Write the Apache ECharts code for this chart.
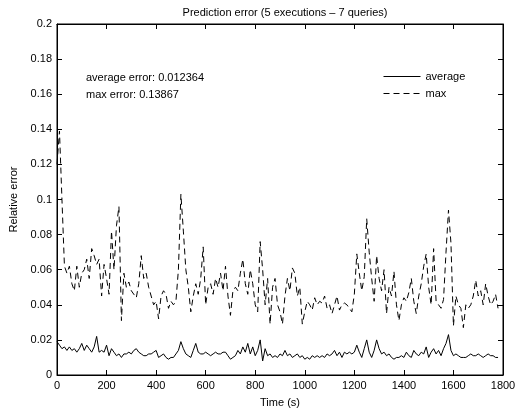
<!DOCTYPE html>
<html><head><meta charset="utf-8">
<script src="https://cdn.jsdelivr.net/npm/echarts@6/dist/echarts.min.js"></script>
<style>html,body{margin:0;padding:0;background:#fff}#c{width:519px;height:413px}</style>
</head><body><div id="c"></div>
<script>
var times = [0,10,20,30,40,50,60,70,80,90,100,110,120,130,140,150,160,170,180,190,200,210,220,230,240,250,260,270,280,290,300,310,320,330,340,350,360,370,380,390,400,410,420,430,440,450,460,470,480,490,500,510,520,530,540,550,560,570,580,590,600,610,620,630,640,650,660,670,680,690,700,710,720,730,740,750,760,770,780,790,800,810,820,830,840,850,860,870,880,890,900,910,920,930,940,950,960,970,980,990,1000,1010,1020,1030,1040,1050,1060,1070,1080,1090,1100,1110,1120,1130,1140,1150,1160,1170,1180,1190,1200,1210,1220,1230,1240,1250,1260,1270,1280,1290,1300,1310,1320,1330,1340,1350,1360,1370,1380,1390,1400,1410,1420,1430,1440,1450,1460,1470,1480,1490,1500,1510,1520,1530,1540,1550,1560,1570,1580,1590,1600,1610,1620,1630,1640,1650,1660,1670,1680,1690,1700,1710,1720,1730,1740,1750,1760,1770,1780];
var maxErr = [0.12,0.139,0.10,0.062,0.058,0.062,0.052,0.048,0.062,0.050,
0.058,0.060,0.066,0.055,0.072,0.068,0.063,0.066,0.045,0.063,
0.055,0.046,0.082,0.060,0.085,0.096,0.031,0.058,0.050,0.053,
0.048,0.046,0.044,0.052,0.068,0.055,0.058,0.050,0.045,0.040,
0.042,0.032,0.045,0.048,0.046,0.038,0.042,0.040,0.042,0.060,
0.103,0.082,0.060,0.050,0.036,0.045,0.052,0.046,0.055,0.073,
0.040,0.050,0.052,0.046,0.055,0.050,0.058,0.048,0.062,0.045,
0.034,0.048,0.050,0.048,0.058,0.066,0.052,0.046,0.060,0.052,
0.040,0.036,0.076,0.060,0.040,0.055,0.029,0.050,0.055,0.040,
0.036,0.029,0.045,0.055,0.048,0.061,0.058,0.045,0.050,0.029,
0.036,0.042,0.040,0.037,0.044,0.040,0.042,0.041,0.045,0.038,
0.040,0.035,0.040,0.045,0.037,0.040,0.041,0.040,0.038,0.036,
0.046,0.069,0.058,0.048,0.056,0.089,0.070,0.055,0.042,0.068,
0.055,0.048,0.060,0.035,0.050,0.045,0.059,0.040,0.031,0.040,
0.044,0.042,0.047,0.055,0.042,0.035,0.045,0.052,0.062,0.069,
0.050,0.040,0.072,0.042,0.040,0.038,0.043,0.070,0.094,0.075,
0.028,0.045,0.040,0.038,0.027,0.040,0.038,0.040,0.045,0.054,
0.045,0.048,0.040,0.052,0.045,0.040,0.042,0.046,0.038];
var avgErr = [0.019,0.017,0.015,0.016,0.014,0.016,0.014,0.015,0.013,0.015,
0.018,0.014,0.017,0.015,0.013,0.016,0.022,0.013,0.014,0.013,
0.017,0.011,0.015,0.013,0.011,0.012,0.010,0.012,0.012,0.013,
0.012,0.014,0.015,0.013,0.012,0.011,0.011,0.012,0.012,0.013,
0.014,0.010,0.011,0.012,0.010,0.009,0.010,0.010,0.012,0.014,
0.019,0.015,0.012,0.011,0.010,0.014,0.018,0.013,0.012,0.012,
0.013,0.012,0.011,0.012,0.013,0.012,0.012,0.013,0.013,0.011,
0.009,0.010,0.011,0.014,0.012,0.016,0.013,0.018,0.012,0.016,
0.011,0.014,0.020,0.008,0.015,0.011,0.012,0.010,0.011,0.010,
0.012,0.011,0.014,0.011,0.012,0.010,0.011,0.012,0.010,0.011,
0.009,0.010,0.009,0.011,0.010,0.011,0.010,0.011,0.010,0.012,
0.011,0.012,0.014,0.011,0.013,0.010,0.013,0.012,0.013,0.012,
0.013,0.017,0.013,0.010,0.015,0.020,0.013,0.010,0.014,0.020,
0.015,0.012,0.013,0.011,0.012,0.010,0.009,0.010,0.010,0.011,
0.010,0.013,0.011,0.010,0.014,0.012,0.011,0.013,0.012,0.016,
0.010,0.013,0.015,0.012,0.014,0.011,0.015,0.018,0.023,0.014,
0.011,0.012,0.011,0.010,0.010,0.010,0.011,0.012,0.011,0.011,
0.012,0.011,0.010,0.011,0.012,0.011,0.011,0.010,0.010];
var xTicks = {min: 0, max: 1800, interval: 200};
var yTicks = {min: 0, max: 0.2, interval: 0.02};
var titleText = 'Prediction error (5 executions \u2013 7 queries)';
var noteLines = ['average error: 0.012364', 'max error: 0.13867'];
var seriesNames = ['average', 'max'];

function zip(xs, ys){ return xs.map(function(x,i){ return [x, ys[i]]; }); }
var font = 'Liberation Sans, Arial, sans-serif';
var chart = echarts.init(document.getElementById('c'), null, {renderer:'canvas'});
function tick(){ return {show:true, inside:true, length:5, lineStyle:{color:'#000', width:1}}; }
function aline(){ return {show:true, onZero:false, lineStyle:{color:'#000', width:1}}; }
chart.setOption({
  animation:false,
  backgroundColor:'#fff',
  title:{text:titleText, left:280, top:2, textAlign:'center',
    textStyle:{fontFamily:font, fontSize:11, fontWeight:'normal', color:'#000'}},
  grid:{left:57, right:16, top:24, bottom:36, show:true, borderColor:'#000', borderWidth:1},
  legend:{orient:'vertical', left:378, top:66, itemWidth:37, itemHeight:12, itemGap:6,
    data:seriesNames, itemStyle:{opacity:0}, lineStyle:{width:1},
    textStyle:{fontFamily:font, fontSize:11, color:'#000'}},
  graphic:[
    {type:'text', left:86, top:72, style:{text:noteLines[0], font:'11px '+font, fill:'#000'}},
    {type:'text', left:86, top:89, style:{text:noteLines[1], font:'11px '+font, fill:'#000'}}
  ],
  xAxis:[
    {type:'value', min:xTicks.min, max:xTicks.max, interval:xTicks.interval, position:'bottom',
     name:'Time (s)', nameLocation:'middle', nameGap:22,
     nameTextStyle:{fontFamily:font, fontSize:11, color:'#000'},
     axisLine:aline(), axisTick:tick(), splitLine:{show:false},
     axisLabel:{fontFamily:font, fontSize:11, color:'#000', margin:5,
       formatter:function(v){ return String(v); }}},
    {type:'value', min:xTicks.min, max:xTicks.max, interval:xTicks.interval, position:'top',
     axisLine:aline(), axisTick:tick(), splitLine:{show:false},
     axisLabel:{show:false}}
  ],
  yAxis:[
    {type:'value', min:yTicks.min, max:yTicks.max, interval:yTicks.interval, position:'left',
     name:'Relative error', nameLocation:'middle', nameGap:37,
     nameTextStyle:{fontFamily:font, fontSize:11, color:'#000'},
     axisLine:aline(), axisTick:tick(), splitLine:{show:false},
     axisLabel:{fontFamily:font, fontSize:11, color:'#000', margin:5,
       formatter:function(v){ return String(+v.toFixed(2)); }}},
    {type:'value', min:yTicks.min, max:yTicks.max, interval:yTicks.interval, position:'right',
     axisLine:aline(), axisTick:tick(), splitLine:{show:false},
     axisLabel:{show:false}}
  ],
  series:[
    {name:seriesNames[0], type:'line', data:zip(times, avgErr), showSymbol:false, symbol:'none',
     lineStyle:{color:'#000', width:1, type:'solid'}, itemStyle:{color:'#000'}},
    {name:seriesNames[1], type:'line', data:zip(times, maxErr), showSymbol:false, symbol:'none',
     lineStyle:{color:'#000', width:1, type:[6,4]}, itemStyle:{color:'#000'}}
  ]
});
</script></body></html>
